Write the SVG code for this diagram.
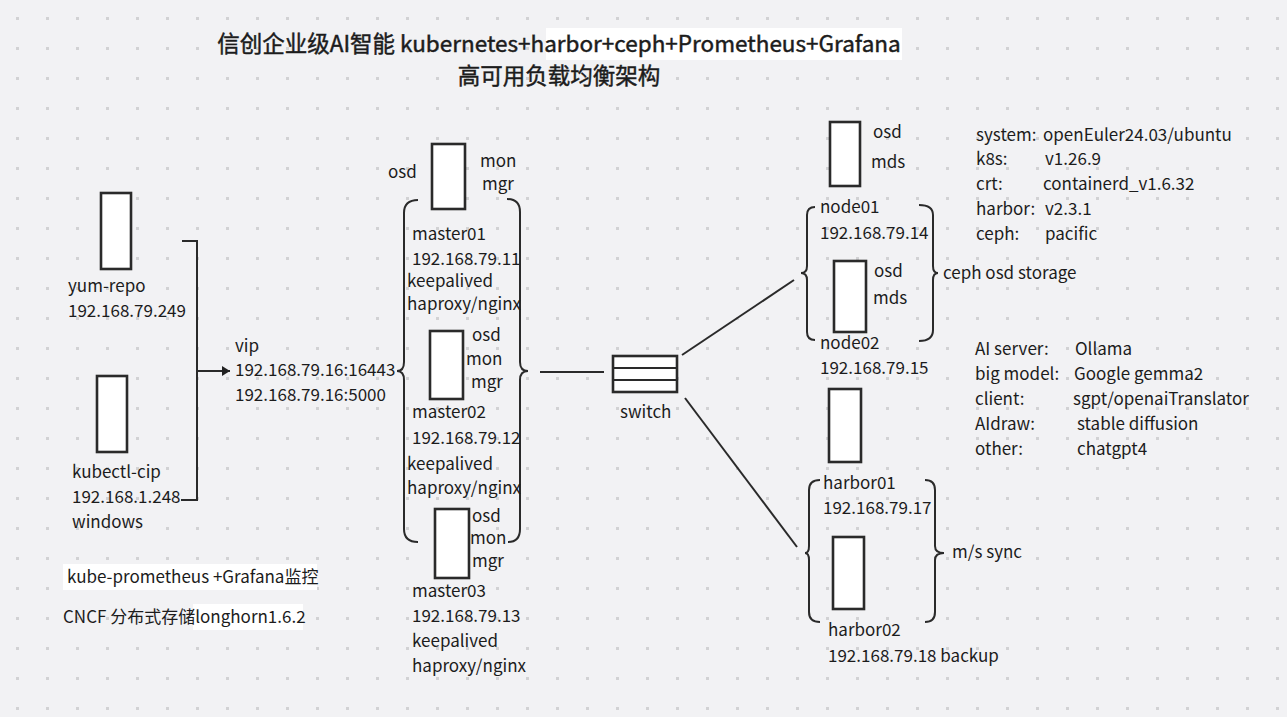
<svg xmlns="http://www.w3.org/2000/svg" width="1287" height="717" viewBox="0 0 1287 717">
<defs>
<pattern id="dots" width="30" height="30" patternUnits="userSpaceOnUse">
<rect x="16" y="17" width="3" height="3" fill="#d2d2d4"/>
</pattern>
<marker id="arrow" markerWidth="10" markerHeight="10" refX="8" refY="5" orient="auto" markerUnits="userSpaceOnUse">
<path d="M0,0 L8,5 L0,10 Z" fill="#222"/>
</marker>
<style>
text{font-family:"Noto Sans CJK SC","Noto Sans",sans-serif;fill:#1c1c1c;font-size:17px}
.title{font-size:22.5px;stroke:#1c1c1c;stroke-width:0.45}
.box{fill:#fff;stroke:#2a2a2a;stroke-width:2.6}
.ln{fill:none;stroke:#2a2a2a;stroke-width:2}
.hl{fill:#fff}
</style>
</defs>
<rect width="1287" height="717" fill="#f2f2f4"/>
<rect width="1287" height="717" fill="url(#dots)"/>

<g id="title">
<rect class="hl" x="546" y="28" width="356" height="32"/>
<text class="title" x="559" y="52" text-anchor="middle">信创企业级AI智能 kubernetes+harbor+ceph+Prometheus+Grafana</text>
<text class="title" x="559" y="84" text-anchor="middle">高可用负载均衡架构</text>
</g>

<g id="connectors">
<path class="ln" d="M182 241 H197 V500 H181"/>
<line class="ln" x1="197" y1="371" x2="230" y2="371" marker-end="url(#arrow)"/>
<path class="ln" d="M418 200 Q404 200 404 213 L404 362 Q404 371 397 371 Q404 371 404 380 L404 529 Q404 542 418 542"/>
<path class="ln" d="M507 199 Q520 199 520 212 L520 362 Q520 371 528 371 Q520 371 520 380 L520 529 Q520 542 508 542"/>
<line class="ln" x1="540" y1="372" x2="604" y2="372"/>
<line class="ln" x1="682" y1="355" x2="794" y2="280"/>
<line class="ln" x1="685" y1="398" x2="797" y2="547"/>
<path class="ln" d="M815 207 Q807 207 807 215 L807 266 Q807 273 801 273 Q807 273 807 280 L807 332 Q807 340 815 340"/>
<path class="ln" d="M919 205 Q933 205 933 215 L933 266 Q933 273 938 273 Q933 273 933 280 L933 330 Q933 341 919 341"/>
<path class="ln" d="M820 480 Q809 480 809 490 L809 546 Q809 553 805 553 Q809 553 809 560 L809 612 Q809 622 820 622"/>
<path class="ln" d="M925 480 Q935 480 935 490 L935 546 Q935 553 944 553 Q935 553 935 560 L935 612 Q935 622 925 622"/>
</g>

<g id="yum-repo">
<rect class="box" x="101" y="193" width="30" height="76"/>
<text x="68" y="292">yum-repo</text>
<text x="68" y="317">192.168.79.249</text>
</g>

<g id="kubectl-cip">
<rect class="box" x="97" y="376" width="30" height="76"/>
<text x="72" y="478">kubectl-cip</text>
<text x="72" y="503">192.168.1.248</text>
<text x="72" y="528">windows</text>
</g>

<g id="vip">
<text x="235" y="352">vip</text>
<text x="235" y="376">192.168.79.16:16443</text>
<text x="235" y="401">192.168.79.16:5000</text>
</g>

<g id="master01">
<rect class="box" x="432" y="144" width="33" height="65"/>
<text x="388" y="178">osd</text>
<text x="480" y="167">mon</text>
<text x="482" y="190">mgr</text>
<text x="412" y="240">master01</text>
<text x="412" y="265">192.168.79.11</text>
<text x="407" y="287">keepalived</text>
<text x="407" y="310">haproxy/nginx</text>
</g>

<g id="master02">
<rect class="box" x="430" y="331" width="33" height="68"/>
<text x="472" y="341">osd</text>
<text x="466" y="365">mon</text>
<text x="471" y="388">mgr</text>
<text x="412" y="418">master02</text>
<text x="412" y="444">192.168.79.12</text>
<text x="407" y="470">keepalived</text>
<text x="407" y="494">haproxy/nginx</text>
</g>

<g id="master03">
<rect class="box" x="435" y="509" width="34" height="69"/>
<text x="472" y="522">osd</text>
<text x="470" y="544">mon</text>
<text x="472" y="567">mgr</text>
<text x="412" y="597">master03</text>
<text x="412" y="622">192.168.79.13</text>
<text x="412" y="647">keepalived</text>
<text x="412" y="672">haproxy/nginx</text>
</g>

<g id="switch">
<rect class="box" x="613" y="356" width="64" height="36"/>
<line class="ln" x1="613" y1="368" x2="677" y2="368"/>
<line class="ln" x1="613" y1="380" x2="677" y2="380"/>
<text x="620" y="418">switch</text>
</g>

<g id="node01">
<rect class="box" x="830" y="122" width="30" height="64"/>
<text x="873" y="138">osd</text>
<text x="871" y="168">mds</text>
<text x="820" y="213">node01</text>
<text x="820" y="239">192.168.79.14</text>
</g>

<g id="node02">
<rect class="box" x="834" y="261" width="32" height="71"/>
<text x="874" y="277">osd</text>
<text x="873" y="304">mds</text>
<text x="820" y="349">node02</text>
<text x="820" y="374">192.168.79.15</text>
</g>

<g id="ceph-storage">
<text x="943" y="279">ceph osd storage</text>
</g>

<g id="harbor01">
<rect class="box" x="829" y="389" width="32" height="73"/>
<text x="823" y="489">harbor01</text>
<text x="823" y="514">192.168.79.17</text>
</g>

<g id="harbor02">
<rect class="box" x="833" y="537" width="31" height="72"/>
<text x="828" y="636">harbor02</text>
<text x="828" y="662">192.168.79.18 backup</text>
</g>

<g id="ms-sync">
<text x="952" y="558">m/s sync</text>
</g>

<g id="versions">
<text x="976" y="141">system:</text><text x="1043" y="141">openEuler24.03/ubuntu</text>
<text x="976" y="165">k8s:</text><text x="1045" y="165">v1.26.9</text>
<text x="976" y="190">crt:</text><text x="1043" y="190">containerd_v1.6.32</text>
<text x="976" y="215">harbor:</text><text x="1045" y="215">v2.3.1</text>
<text x="976" y="240">ceph:</text><text x="1045" y="240">pacific</text>
</g>

<g id="ai">
<text x="975" y="355">AI server:</text><text x="1075" y="355">Ollama</text>
<text x="975" y="380">big model:</text><text x="1074" y="380">Google gemma2</text>
<text x="975" y="405">client:</text><text x="1073" y="405">sgpt/openaiTranslator</text>
<text x="975" y="430">AIdraw:</text><text x="1077" y="430">stable diffusion</text>
<text x="975" y="455">other:</text><text x="1077" y="455">chatgpt4</text>
</g>

<g id="notes">
<rect class="hl" x="63" y="564" width="254" height="26"/>
<text x="67" y="583">kube-prometheus +Grafana监控</text>
<rect class="hl" x="193" y="604" width="110" height="26"/>
<text x="63" y="623">CNCF 分布式存储longhorn1.6.2</text>
</g>
</svg>
